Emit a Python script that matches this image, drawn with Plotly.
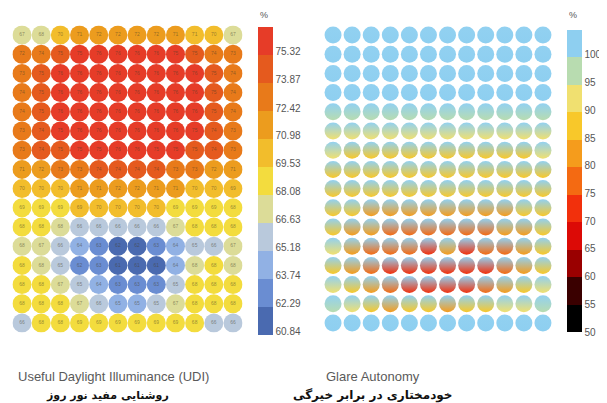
import plotly.graph_objects as go

# ---------------- data ----------------
n_cols = 12
n_rows = 16

udi_rows = [
    [67.2, 67.9, 70.2, 71.2, 71.6, 72.0, 72.0, 71.6, 71.2, 70.6, 70.0, 67.4],
    [72.5, 73.6, 74.6, 75.4, 75.6, 75.7, 75.7, 75.6, 75.4, 74.6, 73.6, 72.6],
    [73.4, 74.6, 75.5, 75.9, 76.0, 76.1, 76.1, 76.0, 75.9, 75.5, 74.6, 73.5],
    [73.5, 74.8, 75.6, 76.0, 76.1, 76.2, 76.2, 76.1, 76.0, 75.6, 74.8, 73.6],
    [73.5, 74.7, 75.5, 75.9, 76.1, 76.2, 76.2, 76.1, 75.9, 75.5, 74.7, 73.5],
    [73.3, 74.5, 75.3, 75.7, 75.9, 76.0, 76.0, 75.9, 75.7, 75.3, 74.5, 73.3],
    [72.6, 73.8, 74.6, 75.2, 75.4, 75.5, 75.5, 75.4, 75.2, 74.6, 73.8, 72.6],
    [71.3, 72.1, 72.8, 73.4, 73.8, 74.0, 74.0, 73.8, 73.4, 72.8, 72.1, 71.3],
    [69.6, 69.9, 70.3, 71.0, 71.2, 71.6, 71.6, 71.4, 70.9, 69.8, 69.5, 69.4],
    [68.6, 68.9, 69.1, 69.4, 69.5, 69.6, 69.6, 69.5, 69.2, 68.8, 68.6, 68.5],
    [68.4, 68.3, 67.9, 66.3, 66.0, 65.9, 66.0, 66.2, 67.4, 68.2, 68.3, 68.3],
    [67.6, 67.0, 65.8, 64.3, 63.2, 61.8, 61.6, 62.9, 64.4, 65.3, 66.2, 67.1],
    [68.0, 67.5, 65.4, 62.5, 62.7, 61.1, 60.9, 61.4, 64.3, 67.8, 68.1, 67.6],
    [68.1, 68.0, 67.1, 65.4, 64.1, 62.6, 63.0, 62.8, 65.3, 68.1, 68.3, 68.0],
    [68.5, 68.5, 68.3, 67.0, 65.7, 64.9, 64.7, 65.4, 66.8, 68.2, 68.4, 68.5],
    [65.5, 68.2, 68.5, 68.8, 69.0, 69.1, 69.1, 68.9, 68.6, 68.3, 65.7, 65.9],
]

glare_rows = [
    [100] * 12,
    [100] * 12,
    [100] * 12,
    [100] * 12,
    [97, 97, 97, 98, 97, 97, 97, 97, 97, 97, 97, 97],
    [94, 93, 93, 93, 93, 93, 93, 93, 93, 93, 93, 94],
    [91, 89, 88, 88, 88, 89, 89, 88, 88, 88, 89, 91],
    [89, 87, 87, 87, 87, 87, 87, 87, 87, 87, 87, 89],
    [89, 87, 86, 85, 85, 85, 85, 85, 85, 86, 87, 89],
    [88, 85, 84, 83, 82, 82, 82, 82, 83, 84, 85, 88],
    [88, 84, 81, 79, 78, 76, 75, 76, 78, 80, 83, 87],
    [91, 84, 78, 75, 77, 74, 82, 74, 76, 78, 82, 89],
    [89, 80, 75, 72, 71, 70, 70, 70, 72, 75, 80, 87],
    [93, 86, 80, 77, 73, 72, 70, 72, 75, 80, 86, 91],
    [97, 93, 87, 83, 85, 88, 81, 86, 88, 90, 94, 97],
    [100] * 12,
]

udi_ticks = [60.84, 62.29, 63.74, 65.18, 66.63, 68.08, 69.53, 70.98, 72.42, 73.87, 75.32]
glare_ticks = [50, 55, 60, 65, 70, 75, 80, 85, 90, 95, 100]

udi_colors = ["#4a6ab0", "#6a8dd2", "#91b1e4", "#b9c9dc", "#dcdc98", "#f3dc3e",
              "#f2bd2c", "#ec9c1e", "#e87a1a", "#e55a1e", "#e63c28"]
glare_colors = ["#000000", "#3a0000", "#9a0000", "#dc0a06", "#f2300c", "#f46a12",
                "#f59c1c", "#f8c82a", "#f0e070", "#b8dcb0", "#8ecff0"]

udi_min, udi_max = 60.68, 76.61
glare_min, glare_max = 50.0, 104.5

titles_en = ["Useful Daylight Illuminance (UDI)", "Glare Autonomy"]
titles_fa = ["روشنایی مفید نور روز", "خودمختاری در برابر خیرگی"]
unit_label = "%"

# ---------------- helpers ----------------
def discrete_scale(colors):
    n = len(colors)
    scale = []
    for i, c in enumerate(colors):
        scale.append([i / n, c])
        scale.append([(i + 1) / n, c])
    return scale


def band_color(v, vmin, vmax, colors):
    n = len(colors)
    idx = int((v - vmin) / (vmax - vmin) * n)
    idx = max(0, min(n - 1, idx))
    return colors[idx]


xs, ys, udi_vals, glare_vals = [], [], [], []
for r in range(n_rows):
    for c in range(n_cols):
        xs.append(c)
        ys.append(r)
        udi_vals.append(udi_rows[r][c])
        glare_vals.append(glare_rows[r][c])

# page body has an 8px margin; the figure is sized to fit the window inside it
OFF = 8
W, H = 607 - OFF, 403 - OFF


def px(x):
    return (x - OFF) / W


def py(y):
    return 1 - (y - OFF) / H


fig = go.Figure()

# left: UDI
fig.add_trace(go.Scatter(
    x=xs, y=ys, mode="markers+text",
    text=[f"{round(v)}" for v in udi_vals],
    textfont=dict(size=5, color="rgba(70,60,40,0.55)", family="Liberation Sans"),
    textposition="middle center",
    marker=dict(
        size=19, color=udi_vals, colorscale=discrete_scale(udi_colors),
        cmin=udi_min, cmax=udi_max, line=dict(width=0),
        colorbar=dict(
            x=px(258), xanchor="left", xpad=0, ypad=0,
            y=py(181), yanchor="middle",
            len=308, lenmode="pixels", thickness=15, outlinewidth=0,
            tickvals=udi_ticks, ticktext=[f"{t:.2f}" for t in udi_ticks],
            ticks="", tickfont=dict(size=10, color="#555555", family="Liberation Sans"),
        ),
    ),
    xaxis="x", yaxis="y", hoverinfo="skip", showlegend=False,
))

# right: glare autonomy (colorbar carrier)
fig.add_trace(go.Scatter(
    x=xs, y=ys, mode="markers",
    marker=dict(
        size=17, color=glare_vals, colorscale=discrete_scale(glare_colors),
        cmin=glare_min, cmax=glare_max, opacity=0,
        colorbar=dict(
            x=px(567), xanchor="left", xpad=0, ypad=0,
            y=py(181), yanchor="middle",
            len=302, lenmode="pixels", thickness=15, outlinewidth=0,
            tickvals=glare_ticks, ticktext=[str(t) for t in glare_ticks],
            ticks="", tickfont=dict(size=10, color="#555555", family="Liberation Sans"),
        ),
    ),
    xaxis="x2", yaxis="y2", hoverinfo="skip", showlegend=False,
))

fig.add_trace(go.Scatter(
    x=xs, y=ys, mode="markers",
    marker=dict(
        size=17, color="#92d1f1", line=dict(width=0),
        gradient=dict(type="vertical",
                      color=[band_color(v, glare_min, glare_max, glare_colors) for v in glare_vals]),
    ),
    xaxis="x2", yaxis="y2", hoverinfo="skip", showlegend=False,
))

axis_common = dict(visible=False, showgrid=False, zeroline=False, fixedrange=True)
fig.update_layout(
    width=W, height=H,
    margin=dict(l=0, r=0, t=0, b=0),
    paper_bgcolor="white", plot_bgcolor="white",
    xaxis=dict(domain=[px(12.4), px(242.6)], range=[-0.5, 11.5], **axis_common),
    yaxis=dict(domain=[py(332.6), py(25.4)], range=[15.5, -0.5], **axis_common),
    xaxis2=dict(domain=[px(323.5), px(552.5)], range=[-0.5, 11.5], anchor="y2", **axis_common),
    yaxis2=dict(domain=[py(332.6), py(25.4)], range=[15.5, -0.5], anchor="x2", **axis_common),
)

centers = [114, 373]
fa_centers = [107, 373]
fa_sizes = [11, 12]
for i in range(2):
    fig.add_annotation(x=px(centers[i]), y=py(376), xref="paper", yref="paper",
                       xanchor="center", yanchor="middle",
                       text=titles_en[i], showarrow=False,
                       font=dict(size=13, color="#5a5a5a", family="Liberation Sans"))
    fig.add_annotation(x=px(fa_centers[i]), y=py(395), xref="paper", yref="paper",
                       xanchor="center", yanchor="middle",
                       text=f"<b>{titles_fa[i]}</b>", showarrow=False,
                       font=dict(size=fa_sizes[i], color="#111111", family="DejaVu Sans"))

unit_x = [264, 573]
for i in range(2):
    fig.add_annotation(x=px(unit_x[i]), y=py(15), xref="paper", yref="paper",
                       xanchor="center", yanchor="middle",
                       text=unit_label, showarrow=False,
                       font=dict(size=9, color="#555555", family="Liberation Sans"))

fig.write_html("out.html")
